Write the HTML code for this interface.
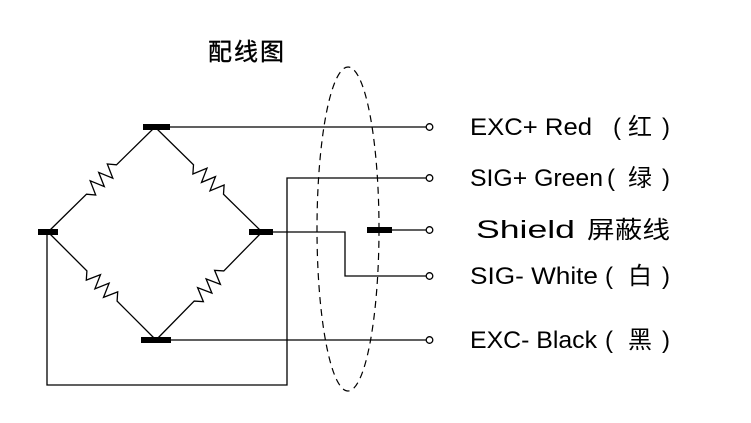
<!DOCTYPE html>
<html><head><meta charset="utf-8"><style>
html,body{margin:0;padding:0;background:#fff;}
svg{display:block;}
text{font-family:"Liberation Sans","Noto Sans CJK SC",sans-serif;fill:#000;font-size:24px;}
</style></head><body>
<svg id="s" width="751" height="423" viewBox="0 0 751 423" xmlns="http://www.w3.org/2000/svg">
<g stroke="#000" stroke-width="1.3" fill="none">
<line x1="155" y1="127" x2="426" y2="127"/>
<polyline points="426,178 287,178 287,385 47,385 47,232"/>
<polyline points="262,232 345,232 345,276 426,276"/>
<line x1="380" y1="230" x2="426" y2="230"/>
<line x1="156" y1="340" x2="426" y2="340"/>
<ellipse cx="348" cy="229" rx="31" ry="162" stroke-dasharray="7,5" stroke-width="1.2"/>
<g id="res"></g>
<circle cx="429.5" cy="127" r="3.3" fill="#fff"/>
<circle cx="429.5" cy="178" r="3.3" fill="#fff"/>
<circle cx="429.5" cy="230" r="3.3" fill="#fff"/>
<circle cx="429.5" cy="276" r="3.3" fill="#fff"/>
<circle cx="429.5" cy="340" r="3.3" fill="#fff"/>
</g>
<g fill="#000">
<rect x="143" y="124" width="27" height="6"/>
<rect x="38" y="229" width="20" height="6"/>
<rect x="249" y="229" width="24" height="6"/>
<rect x="141" y="337" width="30" height="6"/>
<rect x="367" y="227" width="25" height="6"/>
</g>
<text x="208" y="60" letter-spacing="2" stroke="#000" stroke-width="0.4">配线图</text>

<text x="470" y="135" textLength="122" lengthAdjust="spacingAndGlyphs">EXC+ Red</text>
<text x="613" y="135">(</text><text x="628" y="135">红</text><text x="662" y="135">)</text>

<text x="470" y="186" textLength="133" lengthAdjust="spacingAndGlyphs">SIG+ Green</text>
<text x="607" y="186">(</text><text x="628" y="186">绿</text><text x="662" y="186">)</text>

<text x="476" y="238" style="font-size:25px" textLength="99" lengthAdjust="spacingAndGlyphs">Shield</text>
<text x="587" y="238" textLength="83" lengthAdjust="spacingAndGlyphs">屏蔽线</text>

<text x="470" y="284" textLength="128" lengthAdjust="spacingAndGlyphs">SIG- White</text>
<text x="605" y="284">(</text><text x="628" y="284">白</text><text x="662" y="284">)</text>

<text x="470" y="348" textLength="127" lengthAdjust="spacingAndGlyphs">EXC- Black</text>
<text x="605" y="348">(</text><text x="628" y="348">黑</text><text x="662" y="348">)</text>
</svg>
<script>
(function(){
var g=document.getElementById('res');
function res(x1,y1,x2,y2){
 var dx=x2-x1,dy=y2-y1,L=Math.hypot(dx,dy),ux=dx/L,uy=dy/L,px=-uy,py=ux;
 var a=0.36,b=0.64,n=7,amp=7,pts=[[x1,y1]];
 pts.push([x1+dx*a,y1+dy*a]);
 for(var i=1;i<n;i++){var t=a+(b-a)*i/n,s=(i%2?1:-1)*amp;pts.push([x1+dx*t+px*s,y1+dy*t+py*s]);}
 pts.push([x1+dx*b,y1+dy*b]);pts.push([x2,y2]);
 var p=document.createElementNS('http://www.w3.org/2000/svg','polyline');
 p.setAttribute('points',pts.map(function(q){return q[0].toFixed(1)+','+q[1].toFixed(1)}).join(' '));
 g.appendChild(p);
}
res(48,232,155,127);res(155,127,262,232);res(48,232,156,340);res(262,232,156,340);
})();
</script>
</body></html>
